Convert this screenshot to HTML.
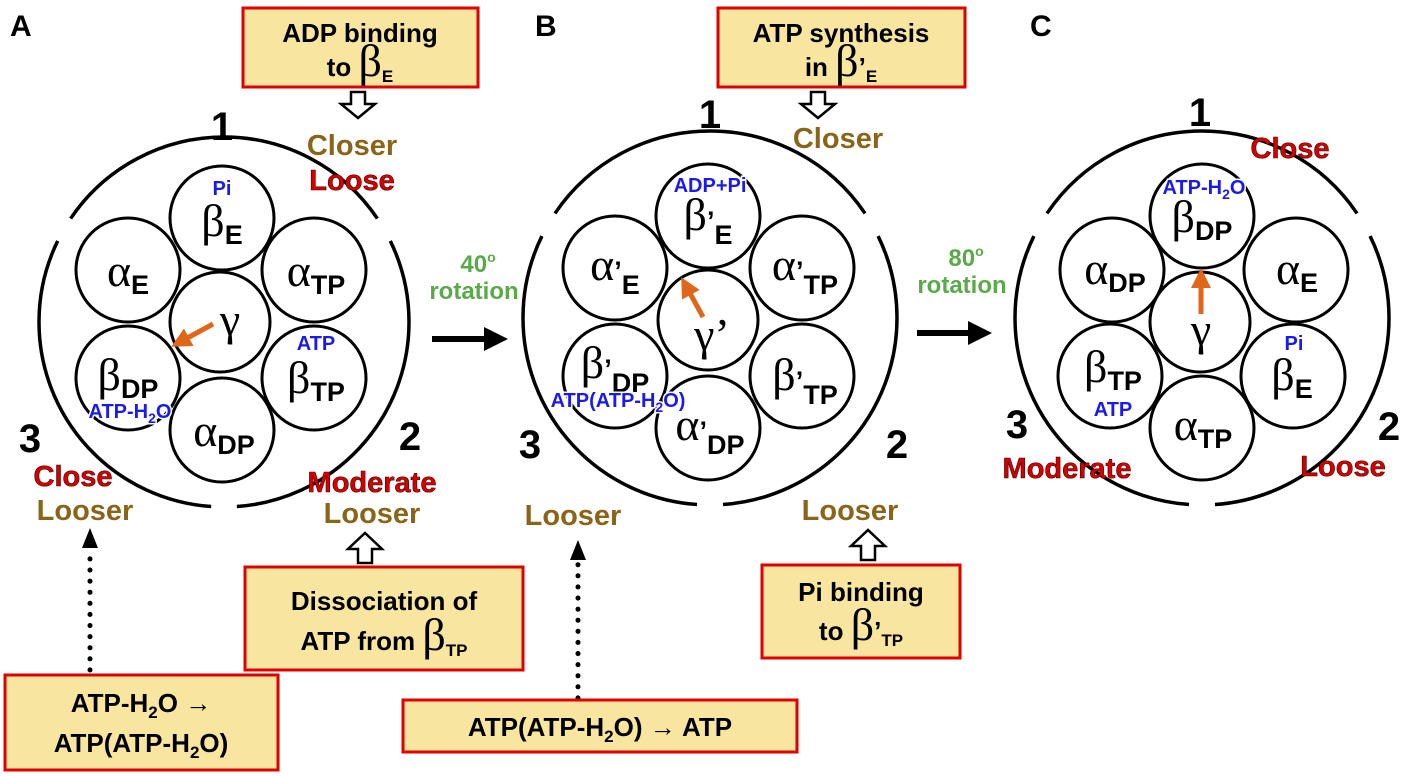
<!DOCTYPE html>
<html><head><meta charset="utf-8"><style>
html,body{margin:0;padding:0;background:#fff}
svg{display:block}
text{font-family:"Liberation Sans",sans-serif;font-weight:bold}
.g{font-family:"Liberation Serif",serif;font-weight:normal;font-size:46px}
.s{font-size:27px}
.bl{fill:#1a1aee;font-size:20px;stroke:#fff;stroke-width:3px;paint-order:stroke}
.num{font-size:40px}
.br{fill:#8a6418;font-size:29px}
.rd{fill:#d40000;font-size:29px;stroke:#400;stroke-width:0.6px}
.gr{fill:#5aaa4a;font-size:24px}
.box{fill:#f8e6a0;stroke:#e00000;stroke-width:3}
.bt{font-size:26px}
.c{fill:#fff;stroke:#000;stroke-width:3}
.o{fill:none;stroke:#000;stroke-width:3.5}
</style></head><body>
<svg width="1405" height="776" viewBox="0 0 1405 776" xmlns="http://www.w3.org/2000/svg">
<defs>
<marker id="ah" markerWidth="4" markerHeight="4" refX="2" refY="2" orient="auto" markerUnits="strokeWidth"><path d="M0,0 L4,2 L0,4z" fill="#000"/></marker>
<marker id="oh" markerWidth="4" markerHeight="4" refX="2" refY="2" orient="auto" markerUnits="strokeWidth"><path d="M0,0 L4,2 L0,4z" fill="#e0661a"/></marker>
</defs>
<text x="10" y="36" font-size="30">A</text>
<text x="535" y="36" font-size="30">B</text>
<text x="1030" y="36" font-size="30">C</text>

<!-- Top boxes -->
<rect class="box" x="243" y="8" width="235" height="79"/>
<text class="bt" x="360" y="42" text-anchor="middle">ADP binding</text>
<text class="bt" x="360" y="76" text-anchor="middle">to <tspan class="g" font-size="28">β</tspan><tspan font-size="17" dy="6">E</tspan></text>
<rect class="box" x="718" y="8" width="247" height="79"/>
<text class="bt" x="841" y="42" text-anchor="middle">ATP synthesis</text>
<text class="bt" x="841" y="76" text-anchor="middle">in <tspan class="g" font-size="28">β</tspan>’<tspan font-size="17" dy="6">E</tspan></text>

<!-- hollow arrows -->
<path d="M351,92 h14 v12 h10 l-17,14 l-17,-14 h10z" fill="#fff" stroke="#000" stroke-width="2.5"/>
<path d="M811,92 h14 v12 h10 l-17,14 l-17,-14 h10z" fill="#fff" stroke="#000" stroke-width="2.5"/>
<path d="M358,563 h14 v-14 h10 l-17,-16 l-17,16 h10z" fill="#fff" stroke="#000" stroke-width="2.5"/>
<path d="M861,560 h14 v-14 h10 l-17,-16 l-17,16 h10z" fill="#fff" stroke="#000" stroke-width="2.5"/>

<!-- Panel A -->
<circle class="o" cx="224" cy="322" r="185" pathLength="360" stroke-dasharray="86 8 112 8 112 8 26"/>
<circle class="c" cx="222" cy="218" r="52"/>
<circle class="c" cx="314" cy="270" r="52"/>
<circle class="c" cx="314" cy="378" r="52"/>
<circle class="c" cx="222" cy="430" r="52"/>
<circle class="c" cx="128" cy="378" r="52"/>
<circle class="c" cx="128" cy="270" r="52"/>
<circle class="c" cx="220" cy="322" r="50"/>
<text class="bl" x="222" y="195" text-anchor="middle">Pi</text>
<text x="222" y="236" text-anchor="middle"><tspan class="g">β</tspan><tspan class="s" dy="8">E</tspan></text>
<text x="316" y="286" text-anchor="middle"><tspan class="g">α</tspan><tspan class="s" dy="8">TP</tspan></text>
<text class="bl" x="316" y="350" text-anchor="middle">ATP</text>
<text x="316" y="393" text-anchor="middle"><tspan class="g">β</tspan><tspan class="s" dy="8">TP</tspan></text>
<text x="224" y="446" text-anchor="middle"><tspan class="g">α</tspan><tspan class="s" dy="8">DP</tspan></text>
<text x="128" y="390" text-anchor="middle"><tspan class="g">β</tspan><tspan class="s" dy="8">DP</tspan></text>
<text class="bl" x="130" y="418" text-anchor="middle">ATP-H<tspan font-size="14" dy="5">2</tspan><tspan dy="-5">O</tspan></text>
<text x="128" y="286" text-anchor="middle"><tspan class="g">α</tspan><tspan class="s" dy="8">E</tspan></text>
<text class="g" x="230" y="335" text-anchor="middle" font-size="42">γ</text>
<line x1="213" y1="324" x2="180" y2="342" stroke="#e0661a" stroke-width="5" marker-end="url(#oh)"/>
<text class="num" x="222" y="140" text-anchor="middle">1</text>
<text class="num" x="30" y="452" text-anchor="middle">3</text>
<text class="num" x="410" y="450" text-anchor="middle">2</text>
<text class="br" x="352" y="155" text-anchor="middle">Closer</text>
<text class="rd" x="352" y="190" text-anchor="middle">Loose</text>
<text class="rd" x="73" y="486" text-anchor="middle">Close</text>
<text class="br" x="85" y="520" text-anchor="middle">Looser</text>
<text class="rd" x="372" y="492" text-anchor="middle">Moderate</text>
<text class="br" x="372" y="523" text-anchor="middle">Looser</text>

<!-- rotation A->B -->
<text class="gr" x="478" y="272" text-anchor="middle">40<tspan font-size="14" dy="-10">o</tspan></text>
<text class="gr" x="474" y="299" text-anchor="middle">rotation</text>
<line x1="432" y1="339" x2="496" y2="339" stroke="#000" stroke-width="6" marker-end="url(#ah)"/>

<!-- Panel B -->
<circle class="o" cx="710" cy="318" r="187" pathLength="360" stroke-dasharray="86 8 112 8 112 8 26"/>
<circle class="c" cx="708" cy="216" r="52"/>
<circle class="c" cx="802" cy="268" r="52"/>
<circle class="c" cx="802" cy="376" r="52"/>
<circle class="c" cx="708" cy="428" r="52"/>
<circle class="c" cx="615" cy="376" r="52"/>
<circle class="c" cx="615" cy="268" r="52"/>
<circle class="c" cx="708" cy="320" r="50"/>
<text class="bl" x="710" y="192" text-anchor="middle">ADP+Pi</text>
<text x="708" y="230" text-anchor="middle"><tspan class="g">β</tspan><tspan class="s">’</tspan><tspan class="s" dy="14">E</tspan></text>
<text x="805" y="280" text-anchor="middle"><tspan class="g">α</tspan><tspan class="s">’</tspan><tspan class="s" dy="14">TP</tspan></text>
<text x="805" y="390" text-anchor="middle"><tspan class="g">β</tspan><tspan class="s">’</tspan><tspan class="s" dy="14">TP</tspan></text>
<text x="710" y="440" text-anchor="middle"><tspan class="g">α</tspan><tspan class="s">’</tspan><tspan class="s" dy="14">DP</tspan></text>
<text x="615" y="378" text-anchor="middle"><tspan class="g">β</tspan><tspan class="s">’</tspan><tspan class="s" dy="14">DP</tspan></text>
<text class="bl" x="618" y="407" text-anchor="middle">ATP(ATP-H<tspan font-size="14" dy="5">2</tspan><tspan dy="-5">O)</tspan></text>
<text x="615" y="280" text-anchor="middle"><tspan class="g">α</tspan><tspan class="s">’</tspan><tspan class="s" dy="14">E</tspan></text>
<text class="g" x="712" y="350" text-anchor="middle" font-size="42">γ’</text>
<line x1="703" y1="317" x2="686" y2="286" stroke="#e0661a" stroke-width="5" marker-end="url(#oh)"/>
<text class="num" x="710" y="128" text-anchor="middle">1</text>
<text class="num" x="530" y="458" text-anchor="middle">3</text>
<text class="num" x="897" y="458" text-anchor="middle">2</text>
<text class="br" x="838" y="148" text-anchor="middle">Closer</text>
<text class="br" x="573" y="525" text-anchor="middle">Looser</text>
<text class="br" x="850" y="520" text-anchor="middle">Looser</text>

<!-- rotation B->C -->
<text class="gr" x="966" y="266" text-anchor="middle">80<tspan font-size="14" dy="-10">o</tspan></text>
<text class="gr" x="962" y="293" text-anchor="middle">rotation</text>
<line x1="917" y1="333" x2="980" y2="333" stroke="#000" stroke-width="6" marker-end="url(#ah)"/>

<!-- Panel C -->
<circle class="o" cx="1202" cy="318" r="187" pathLength="360" stroke-dasharray="86 8 112 8 112 8 26"/>
<circle class="c" cx="1202" cy="216" r="52"/>
<circle class="c" cx="1296" cy="270" r="52"/>
<circle class="c" cx="1293" cy="376" r="52"/>
<circle class="c" cx="1202" cy="428" r="52"/>
<circle class="c" cx="1110" cy="376" r="52"/>
<circle class="c" cx="1112" cy="270" r="52"/>
<circle class="c" cx="1200" cy="322" r="50"/>
<text class="bl" x="1204" y="194" text-anchor="middle">ATP-H<tspan font-size="14" dy="5">2</tspan><tspan dy="-5">O</tspan></text>
<text x="1202" y="232" text-anchor="middle"><tspan class="g">β</tspan><tspan class="s" dy="8">DP</tspan></text>
<text x="1297" y="284" text-anchor="middle"><tspan class="g">α</tspan><tspan class="s" dy="8">E</tspan></text>
<text class="bl" x="1294" y="350" text-anchor="middle">Pi</text>
<text x="1292" y="390" text-anchor="middle"><tspan class="g">β</tspan><tspan class="s" dy="8">E</tspan></text>
<text x="1203" y="440" text-anchor="middle"><tspan class="g">α</tspan><tspan class="s" dy="8">TP</tspan></text>
<text x="1113" y="382" text-anchor="middle"><tspan class="g">β</tspan><tspan class="s" dy="8">TP</tspan></text>
<text class="bl" x="1113" y="416" text-anchor="middle">ATP</text>
<text x="1115" y="284" text-anchor="middle"><tspan class="g">α</tspan><tspan class="s" dy="8">DP</tspan></text>
<text class="g" x="1201" y="345" text-anchor="middle" font-size="42">γ</text>
<line x1="1201" y1="314" x2="1201" y2="278" stroke="#e0661a" stroke-width="5" marker-end="url(#oh)"/>
<text class="num" x="1200" y="126" text-anchor="middle">1</text>
<text class="num" x="1017" y="438" text-anchor="middle">3</text>
<text class="num" x="1389" y="440" text-anchor="middle">2</text>
<text class="rd" x="1290" y="158" text-anchor="middle">Close</text>
<text class="rd" x="1067" y="478" text-anchor="middle">Moderate</text>
<text class="rd" x="1343" y="476" text-anchor="middle">Loose</text>

<!-- dotted arrows -->
<line x1="90" y1="670" x2="90" y2="548" stroke="#000" stroke-width="5" stroke-dasharray="0.1 11" stroke-linecap="round"/>
<path d="M90,528 l-8,20 h16z" fill="#000"/>
<line x1="578" y1="698" x2="578" y2="560" stroke="#000" stroke-width="5" stroke-dasharray="0.1 11" stroke-linecap="round"/>
<path d="M578,540 l-8,20 h16z" fill="#000"/>

<!-- bottom boxes -->
<rect class="box" x="245" y="567" width="278" height="103"/>
<text class="bt" x="384" y="610" text-anchor="middle">Dissociation of</text>
<text class="bt" x="384" y="650" text-anchor="middle">ATP from <tspan class="g" font-size="28">β</tspan><tspan font-size="17" dy="6">TP</tspan></text>
<rect class="box" x="762" y="565" width="198" height="93"/>
<text class="bt" x="861" y="601" text-anchor="middle">Pi binding</text>
<text class="bt" x="861" y="640" text-anchor="middle">to <tspan class="g" font-size="28">β</tspan>’<tspan font-size="17" dy="6">TP</tspan></text>
<rect class="box" x="5" y="675" width="273" height="95"/>
<text class="bt" x="141" y="712" text-anchor="middle">ATP-H<tspan font-size="17" dy="6">2</tspan><tspan dy="-6">O →</tspan></text>
<text class="bt" x="141" y="752" text-anchor="middle">ATP(ATP-H<tspan font-size="17" dy="6">2</tspan><tspan dy="-6">O)</tspan></text>
<rect class="box" x="403" y="700" width="394" height="52"/>
<text class="bt" x="600" y="736" text-anchor="middle">ATP(ATP-H<tspan font-size="17" dy="6">2</tspan><tspan dy="-6">O) → ATP</tspan></text>
</svg>
</body></html>
